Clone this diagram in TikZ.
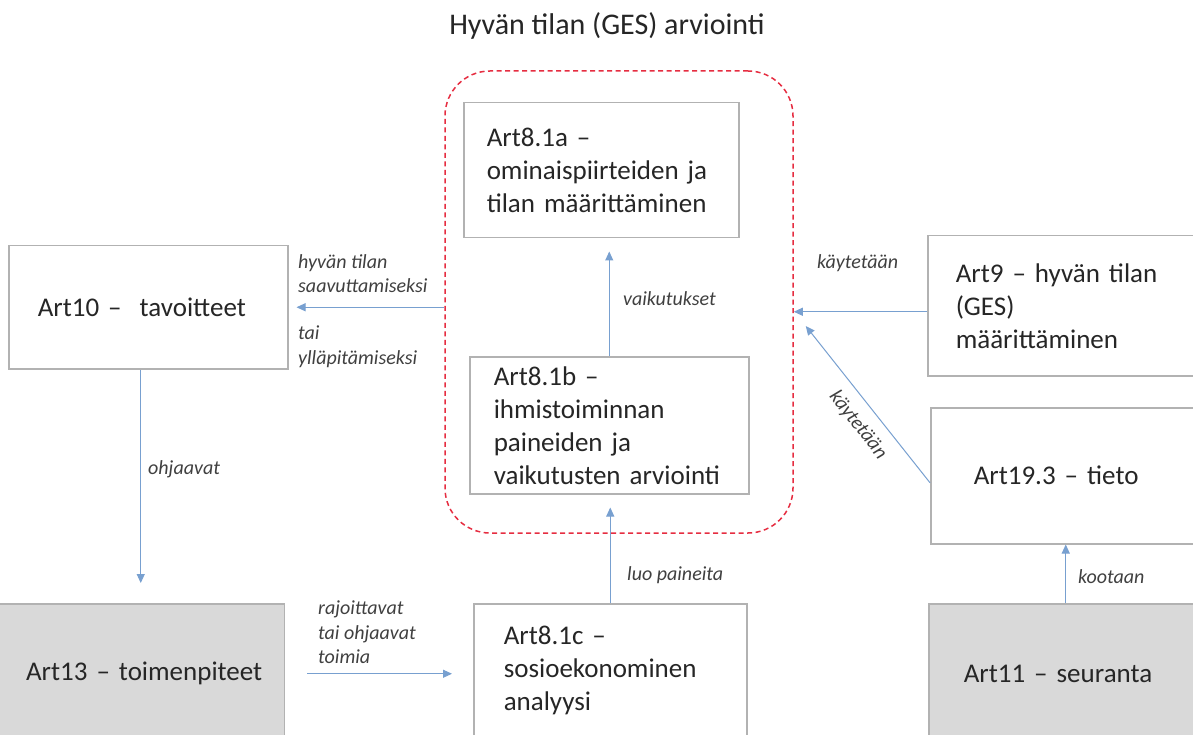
\documentclass[tikz,border=0pt]{standalone}
\usepackage{fontspec}
\setmainfont{Carlito}
\usetikzlibrary{arrows.meta}
\definecolor{boxgray}{RGB}{178,178,178}
\definecolor{fillgray}{RGB}{217,217,217}
\definecolor{flowblue}{RGB}{120,160,208}
\definecolor{gesred}{RGB}{230,45,65}
\definecolor{textdark}{RGB}{38,38,38}
\definecolor{lbldark}{RGB}{64,64,64}
\newcommand{\artfont}{\fontsize{27}{33}\selectfont}
\newcommand{\arrowlabelfont}{\fontsize{20}{24.4}\selectfont\itshape}
\tikzset{
  artbox/.style n args={3}{draw=boxgray, line width=1.5pt, anchor=north west,
    align=left, font=\artfont, text=textdark, text width=#1,
    minimum height=#2, inner xsep=#3, inner ysep=0pt},
  flow/.style={draw=flowblue, line width=1pt, -{Triangle[length=9pt,width=8pt]}},
  lbl/.style={font=\arrowlabelfont, text=lbldark, inner sep=0pt, align=left},
}

\begin{document}
\begin{tikzpicture}[x=1pt,y=-1pt]
  \useasboundingbox (0,0) rectangle (1193,735);
  \fill[white] (0,0) rectangle (1193,735);
  \clip (0,0) rectangle (1193,735);

  \node[font=\fontsize{30}{36}\selectfont, text=textdark, anchor=base, inner sep=0pt]
    (title) at (607,35) {Hyvän tilan (GES) arviointi};

  % GES assessment frame
  \node[draw=gesred, line width=1.5pt, dash pattern=on 5pt off 3.5pt, rounded corners=45pt,
    minimum width=348pt, minimum height=462pt] (ges) at (619,302) {};

  \node[artbox={221pt}{123pt}{29pt}] (a10) at (8,245) {Art10 –\ \ tavoitteet};
  \node[artbox={229pt}{135pt}{23pt}] (a81a) at (463,102) {Art8.1a –\\ominaispiirteiden ja\\tilan määrittäminen};
  \node[artbox={231pt}{137pt}{24pt}] (a81b) at (469,356) {Art8.1b –\\ihmistoiminnan\\paineiden ja\\vaikutusten arviointi};
  \node[artbox={217pt}{140pt}{28pt}] (a9) at (927,235) {Art9 – hyvän tilan\\(GES)\\määrittäminen};
  \node[artbox={184pt}{136pt}{43pt}] (a193) at (930,407) {Art19.3 – tieto};
  \node[artbox={213pt}{134pt}{30pt}] (a81c) at (473,603) {Art8.1c –\\sosioekonominen\\analyysi};
  \node[artbox={250pt}{140pt}{22pt}, fill=fillgray, align=right, anchor=north east] (a13) at (285,603) {Art13 – toimenpiteet};
  \node[artbox={200pt}{140pt}{35pt}, fill=fillgray] (a11) at (928,603) {Art11 – seuranta};

  % connectors
  \draw[flow, shorten >=8pt] (ges.west |- a10.east) -- (a10.east);
  \draw[flow, shorten >=13pt] (a81b.north) -- (a81b.north |- a81a.south);
  \draw[flow] ([yshift=-6pt]a9.west) -- ([yshift=-6pt]a9.west -| ges.east);
  \draw[flow] ([yshift=-7pt]a193.west) -- ([xshift=12pt,yshift=-24pt]ges.east);
  \draw[flow] (a193.south |- a11.north) -- (a193.south);
  \draw[flow, shorten >=20pt] ([xshift=-7.5pt]a10.south) -- ([xshift=-7.5pt]a10.south |- a13.north);
  \draw[flow, shorten <=22pt, shorten >=21pt] (a13.east) -- (a81c.west |- a13.east);
  \draw[flow, shorten >=13pt] (a81c.north) -- (a81c.north |- a81b.south);

  % labels
  \node[lbl, anchor=north west] (l1) at (298,254) {hyvän tilan\\saavuttamiseksi};
  \node[lbl, anchor=north west] (l2) at (298,326) {tai\\ylläpitämiseksi};
  \node[lbl, anchor=north west] (l3) at (318,601) {rajoittavat\\tai ohjaavat\\toimia};
  \node[lbl, rotate=-52] (l4) at (858,425) {käytetään};
  \foreach \x/\y/\t [count=\i from 5] in {623/305/vaikutukset, 817/269/käytetään,
    148/474/ohjaavat, 627/580/luo paineita, 1078/583/kootaan} {
    \node[lbl, anchor=base west] (l\i) at (\x,\y) {\t};
  }
\end{tikzpicture}
\end{document}
